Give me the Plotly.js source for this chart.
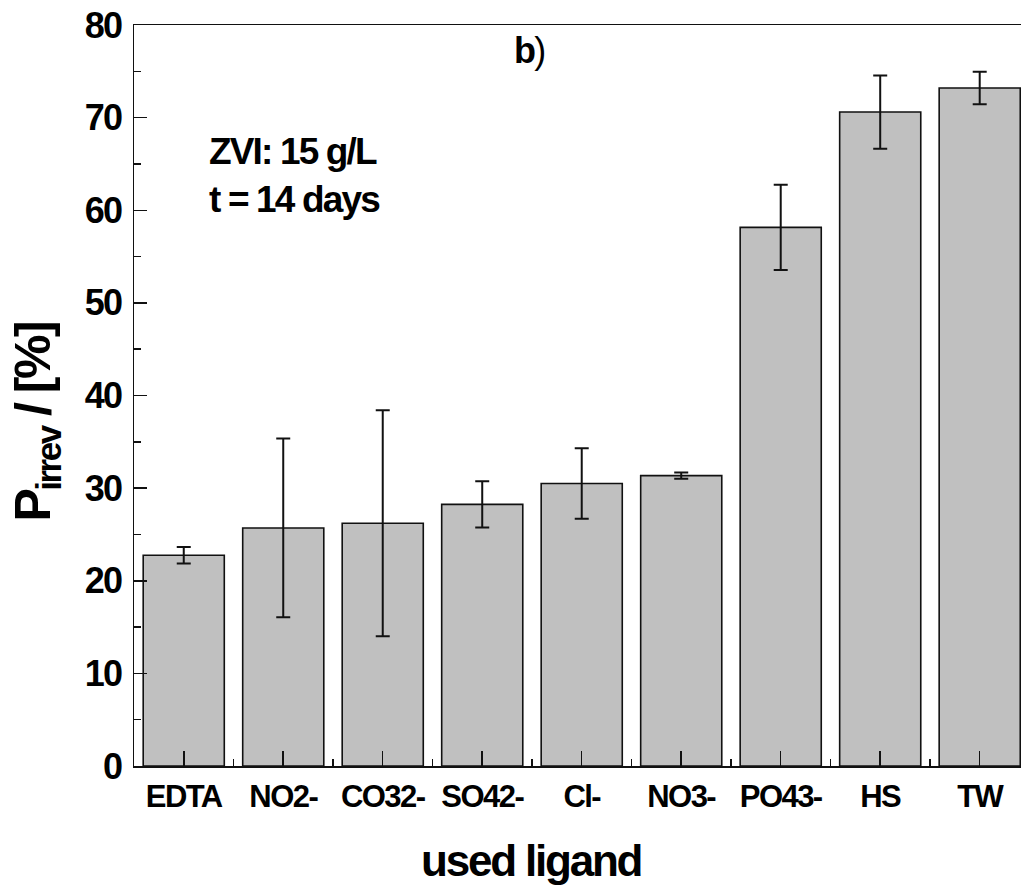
<!DOCTYPE html>
<html>
<head>
<meta charset="utf-8">
<script src="https://cdn.plot.ly/plotly-3.0.1.min.js"></script>
<style>
html,body{margin:0;padding:0;background:#fff;}
#chart{width:1021px;height:894px;}
svg text{letter-spacing:-0.05em;}
</style>
</head>
<body>
<div id="chart"></div>
<script>
const categories = ["EDTA", "NO2-", "CO32-", "SO42-", "Cl-", "NO3-", "PO43-", "HS", "TW"];
const values = [22.75, 25.7, 26.2, 28.25, 30.5, 31.35, 58.15, 70.6, 73.2];
const errors = [0.9, 9.65, 12.2, 2.5, 3.8, 0.35, 4.6, 3.95, 1.75];
const yTicks = [0, 10, 20, 30, 40, 50, 60, 70, 80];

const positions = categories.map((c, i) => i);
const FONT = "'Liberation Sans', Arial, sans-serif";

const trace = {
  type: 'bar',
  x: positions,
  y: values,
  width: 0.815,
  marker: {color: '#c0c0c0', line: {color: '#111', width: 1.6}},
  error_y: {type: 'data', array: errors, visible: true, color: '#111', thickness: 2, width: 7},
  hoverinfo: 'x+y'
};

const layout = {
  width: 1021, height: 894,
  margin: {l: 134, r: 0, t: 25, b: 128},
  paper_bgcolor: '#fff', plot_bgcolor: '#fff',
  showlegend: false,
  font: {family: FONT, color: '#000'},
  xaxis: {
    type: 'linear',
    range: [-0.5, 8.415],
    tickmode: 'array',
    tickvals: positions,
    ticktext: categories.map(c => '<b>' + c + '</b>'),
    ticks: 'inside', ticklen: 15, tickwidth: 1.5, tickcolor: '#111',
    minor: {tick0: 0.5, dtick: 1, ticks: 'inside', ticklen: 7, tickwidth: 1.5, tickcolor: '#111', showgrid: false},
    showline: true, linecolor: '#111', linewidth: 1.5, mirror: true,
    showgrid: false, zeroline: false,
    tickfont: {family: FONT, size: 31, color: '#000'},
    ticklabelstandoff: 2
  },
  yaxis: {
    range: [0, 80],
    tickmode: 'array',
    tickvals: yTicks,
    ticktext: yTicks.map(v => '<b>' + v + '</b>'),
    ticks: 'inside', ticklen: 13, tickwidth: 1.5, tickcolor: '#111',
    minor: {dtick: 5, tick0: 0, ticks: 'inside', ticklen: 7, tickwidth: 1.5, tickcolor: '#111', showgrid: false},
    showline: true, linecolor: '#111', linewidth: 1.5,
    showgrid: false, zeroline: false,
    tickfont: {family: FONT, size: 36, color: '#000'},
    ticklabelstandoff: 4
  },
  annotations: [
    {xref: 'x', yref: 'y', x: 0.23, y: 63.8, xanchor: 'left', yanchor: 'middle', align: 'left',
     text: '<b>ZVI: 15 g/L</b><br><b>t = 14 days</b>', showarrow: false,
     font: {family: FONT, size: 37, color: '#000'}},
    {xref: 'x', yref: 'y', x: 3.47, y: 77.3, xanchor: 'center', yanchor: 'middle',
     text: '<b>b</b>)', showarrow: false, font: {family: FONT, size: 36, color: '#000'}},
    {xref: 'paper', yref: 'paper', x: -0.11, y: 0.464, xanchor: 'center', yanchor: 'middle',
     textangle: -90, text: '<b>P<sub>irrev</sub> / [%]</b>', showarrow: false,
     font: {family: FONT, size: 50, color: '#000'}},
    {xref: 'paper', yref: 'paper', x: 0.4476, y: -0.127, xanchor: 'center', yanchor: 'middle',
     text: '<b>used ligand</b>', showarrow: false, font: {family: FONT, size: 44, color: '#000'}}
  ]
};

Plotly.newPlot('chart', [trace], layout, {displayModeBar: false, staticPlot: true});
</script>
</body>
</html>
